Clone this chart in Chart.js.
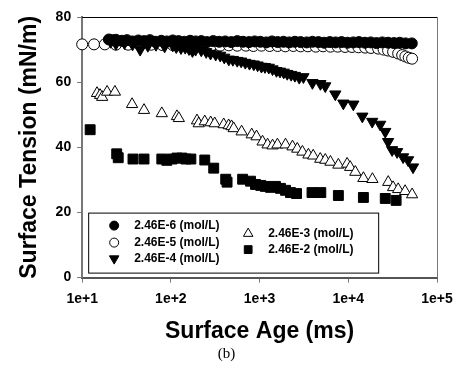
<!DOCTYPE html>
<html>
<head>
<meta charset="utf-8">
<script src="https://cdn.jsdelivr.net/npm/chart.js@4.4.1/dist/chart.umd.min.js"></script>
<style>
  html, body { margin: 0; padding: 0; background: #fff; }
</style>
</head>
<body>
<canvas id="myChart" width="460" height="370"></canvas>
<script>
// concentrations shown in the legend
const seriesLabels = ['2.46E-6 (mol/L)', '2.46E-5 (mol/L)', '2.46E-4 (mol/L)', '2.46E-3 (mol/L)', '2.46E-2 (mol/L)'];

// surface age (ms) and surface tension (mN/m)
const age1 = [20, 22, 24, 28, 32, 37, 43, 50, 58, 67, 78, 90, 105, 122, 142, 165, 190, 220, 255, 300, 350, 410, 480, 560, 650, 760, 880, 1020, 1190, 1380, 1600, 1860, 2160, 2500, 2900, 3400, 3950, 4600, 5350, 6200, 7200, 8400, 9800, 11400, 13200, 15400, 17900, 20800, 24200, 28100, 32700, 38000, 44200, 52000];
const tension1 = [73.1, 72.9, 73.0, 72.7, 72.9, 72.5, 72.8, 72.6, 72.9, 72.4, 72.7, 72.5, 72.8, 72.6, 72.4, 72.7, 72.5, 72.6, 72.3, 72.6, 72.4, 72.5, 72.3, 72.6, 72.4, 72.3, 72.5, 72.4, 72.2, 72.5, 72.3, 72.4, 72.2, 72.4, 72.3, 72.2, 72.4, 72.3, 72.1, 72.3, 72.2, 72.3, 72.1, 72.2, 72.3, 72.1, 72.2, 72.0, 72.2, 72.1, 72.0, 72.1, 71.9, 71.9];

const age2 = [10, 13.6, 18, 24, 33, 45, 60, 80, 105, 140, 180, 230, 290, 360, 450, 560, 700, 850, 1050, 1300, 1600, 1950, 2400, 2900, 3500, 4300, 5200, 6300, 7600, 9200, 11000, 13000, 15500, 18000, 21700, 25000, 28100, 32000, 36500, 40500, 44000, 48000, 52400];
const tension2 = [71.6, 71.6, 71.6, 71.5, 71.5, 71.4, 71.5, 71.4, 71.4, 71.3, 71.4, 71.3, 71.3, 71.2, 71.3, 71.2, 71.2, 71.1, 71.2, 71.1, 71.1, 71.0, 71.1, 71.0, 71.0, 70.9, 71.0, 70.9, 70.9, 70.8, 70.8, 70.7, 70.6, 70.5, 70.3, 70.0, 69.7, 69.3, 68.8, 68.3, 67.9, 67.5, 67.2];

const age3 = [21, 24, 30, 37, 45, 55, 68, 85, 105, 115, 130, 145, 160, 175, 190, 220, 250, 280, 320, 360, 400, 450, 500, 560, 620, 690, 770, 860, 950, 1050, 1150, 1270, 1400, 1550, 1700, 1870, 2050, 2270, 2500, 2800, 3120, 3940, 4850, 5500, 7140, 8800, 11400, 14400, 18600, 22900, 26100, 28100, 31200, 35500, 41500, 47200, 53700];
const tension3 = [72.4, 71.8, 72.0, 71.6, 70.0, 71.2, 71.5, 71.0, 71.3, 70.8, 70.5, 70.6, 70.2, 69.6, 70.0, 69.8, 69.3, 68.8, 68.5, 68.2, 67.6, 67.0, 66.9, 66.6, 66.4, 66.0, 65.7, 65.5, 65.2, 64.8, 64.7, 64.5, 64.0, 63.5, 63.3, 63.0, 62.6, 62.3, 62.0, 61.4, 61.6, 59.8, 59.5, 58.8, 56.3, 53.5, 53.2, 49.5, 47.9, 47.0, 44.8, 41.7, 39.2, 38.6, 37.0, 36.1, 33.9];

const age4 = [14.7, 15.9, 16.8, 19.1, 23.4, 36.5, 49.8, 79, 117, 123, 197, 206, 241, 281, 312, 394, 448, 483, 510, 627, 815, 924, 1080, 1230, 1400, 1590, 1960, 2350, 2660, 3040, 3550, 4020, 4830, 5500, 6290, 7730, 9700, 10500, 12000, 14800, 18700, 28200, 32000, 36500, 43700, 52400];
const tension4 = [56.6, 56.0, 55.4, 57.0, 57.0, 53.2, 51.4, 50.4, 49.5, 48.9, 48.2, 47.3, 47.9, 47.6, 47.3, 47.0, 46.7, 46.4, 45.8, 44.8, 43.9, 43.3, 41.7, 40.8, 40.5, 40.8, 40.8, 40.2, 39.5, 38.6, 37.7, 37.4, 36.4, 36.1, 35.5, 34.6, 34.9, 33.9, 32.4, 30.5, 30.2, 29.3, 27.7, 27.1, 26.5, 25.5];

const age5 = [12.3, 24.5, 25.5, 37.4, 49.8, 79, 90, 103, 117, 133, 148, 168, 241, 304, 415, 430, 644, 790, 900, 1030, 1160, 1330, 1510, 1720, 1960, 2230, 2610, 3900, 4900, 7730, 14800, 26100, 34600];
const tension5 = [45.4, 38.0, 36.8, 36.4, 36.4, 36.4, 36.0, 36.4, 36.7, 36.7, 36.4, 36.4, 36.1, 33.6, 30.2, 29.3, 30.2, 29.6, 28.6, 28.3, 28.0, 27.7, 28.0, 27.4, 26.8, 26.1, 25.8, 26.1, 26.1, 25.2, 24.6, 24.3, 23.7];

const xTickValues = [10, 100, 1000, 10000, 100000];
const yTickValues = [0, 20, 40, 60, 80];

const SANS = "'Liberation Sans', Arial, sans-serif";

function toPoints(xs, ys) {
    return xs.map((x, i) => ({ x: x, y: ys[i] }));
}

// marker look for each series, also used by the legend box
const markers = [
    { pointStyle: 'circle', rotation: 0, radius: 5.5, fill: '#000', legendRadius: 4.5 },
    { pointStyle: 'circle', rotation: 0, radius: 5.5, fill: '#fff', legendRadius: 4.5 },
    { pointStyle: 'triangle', rotation: 180, radius: 6.5, fill: '#000', legendRadius: 5.5 },
    { pointStyle: 'triangle', rotation: 0, radius: 6.5, fill: '#fff', legendRadius: 5.5 },
    { pointStyle: 'rect', rotation: 0, radius: 7, fill: '#000', legendRadius: 5.5 }
];
// lower order is drawn on top
const drawOrder = [3, 5, 4, 2, 1];

const allAges = [age1, age2, age3, age4, age5];
const allTensions = [tension1, tension2, tension3, tension4, tension5];

const datasets = seriesLabels.map((label, i) => ({
    label: label,
    data: toPoints(allAges[i], allTensions[i]),
    pointStyle: markers[i].pointStyle,
    pointRotation: markers[i].rotation,
    pointRadius: markers[i].radius,
    pointBackgroundColor: markers[i].fill,
    pointBorderColor: '#000',
    pointBorderWidth: 1,
    showLine: false,
    clip: false,
    order: drawOrder[i]
}));

// top and right frame lines
const framePlugin = {
    id: 'frame',
    beforeDatasetsDraw(chart) {
        const { ctx, chartArea: a } = chart;
        ctx.save();
        ctx.lineWidth = 1;
        ctx.strokeStyle = '#000';
        ctx.beginPath();
        ctx.moveTo(a.left, a.top + 0.5);
        ctx.lineTo(a.right, a.top + 0.5);
        ctx.stroke();
        ctx.strokeStyle = '#777';
        ctx.beginPath();
        ctx.moveTo(a.right + 0.5, a.top);
        ctx.lineTo(a.right + 0.5, a.bottom);
        ctx.stroke();
        ctx.restore();
    }
};

// legend box inside the plot, two columns (3 + 2 entries)
const boxLegend = {
    id: 'boxLegend',
    afterDatasetsDraw(chart) {
        const { ctx, chartArea: a } = chart;
        const left = a.left + 6, top = a.bottom - 65, w = 290, h = 60;
        ctx.save();
        ctx.fillStyle = '#fff';
        ctx.fillRect(left, top, w, h);
        ctx.strokeStyle = '#000';
        ctx.lineWidth = 1;
        ctx.strokeRect(left + 0.5, top + 0.5, w, h);

        const slots = [
            [left + 26, top + 13], [left + 26, top + 30], [left + 26, top + 46],
            [left + 160, top + 21], [left + 160, top + 37]
        ];
        ctx.font = 'bold 12px ' + SANS;
        ctx.textBaseline = 'middle';
        chart.data.datasets.forEach((ds, i) => {
            const [mx, my] = slots[i];
            const m = markers[i];
            ctx.fillStyle = m.fill;
            ctx.strokeStyle = '#000';
            ctx.lineWidth = 1;
            Chart.helpers.drawPoint(ctx, {
                pointStyle: m.pointStyle, rotation: m.rotation,
                radius: m.legendRadius, borderWidth: 1
            }, mx, my);
            ctx.fillStyle = '#000';
            ctx.fillText(ds.label, mx + 20, my + 0.5);
        });
        ctx.restore();
    }
};

new Chart(document.getElementById('myChart'), {
    type: 'scatter',
    data: { datasets: datasets },
    options: {
        responsive: false,
        animation: false,
        devicePixelRatio: 1,
        layout: { padding: { top: 17, right: 23, left: 16, bottom: 5 } },
        plugins: {
            legend: { display: false },
            tooltip: { enabled: false },
            subtitle: {
                display: true,
                text: '(b)',
                position: 'bottom',
                color: '#000',
                font: { family: "'Liberation Serif', 'Times New Roman', serif", size: 15, weight: 'normal' },
                padding: { top: 0, bottom: 2 }
            }
        },
        scales: {
            x: {
                type: 'logarithmic',
                min: 10,
                max: 100000,
                afterBuildTicks: (scale) => {
                    scale.ticks = xTickValues.map(v => ({ value: v }));
                },
                // let the layout padding alone decide the side margins
                afterFit: (scale) => {
                    scale.paddingLeft = 0;
                    scale.paddingRight = 0;
                },
                ticks: {
                    color: '#000',
                    font: { family: SANS, size: 14, weight: 'bold' },
                    padding: 8,
                    maxRotation: 0,
                    callback: (v) => '1e+' + Math.round(Math.log10(v))
                },
                grid: { drawOnChartArea: false, drawTicks: true, tickLength: 5, color: '#777' },
                border: { display: true, color: '#555', width: 2 },
                title: {
                    display: true,
                    text: 'Surface Age (ms)',
                    color: '#000',
                    font: { family: SANS, size: 23, weight: 'bold' },
                    padding: { top: 2, bottom: 0 }
                }
            },
            y: {
                min: 0,
                max: 80,
                afterBuildTicks: (scale) => {
                    scale.ticks = yTickValues.map(v => ({ value: v }));
                },
                ticks: {
                    color: '#000',
                    font: { family: SANS, size: 14, weight: 'bold' },
                    padding: 6
                },
                grid: { drawOnChartArea: false, drawTicks: true, tickLength: 5, color: '#777' },
                border: { display: true, color: '#777', width: 2 },
                title: {
                    display: true,
                    text: 'Surface Tension (mN/m)',
                    color: '#000',
                    font: { family: SANS, size: 23, weight: 'bold' },
                    padding: { top: 0, bottom: 6 }
                }
            }
        }
    },
    plugins: [framePlugin, boxLegend]
});
</script>
</body>
</html>
